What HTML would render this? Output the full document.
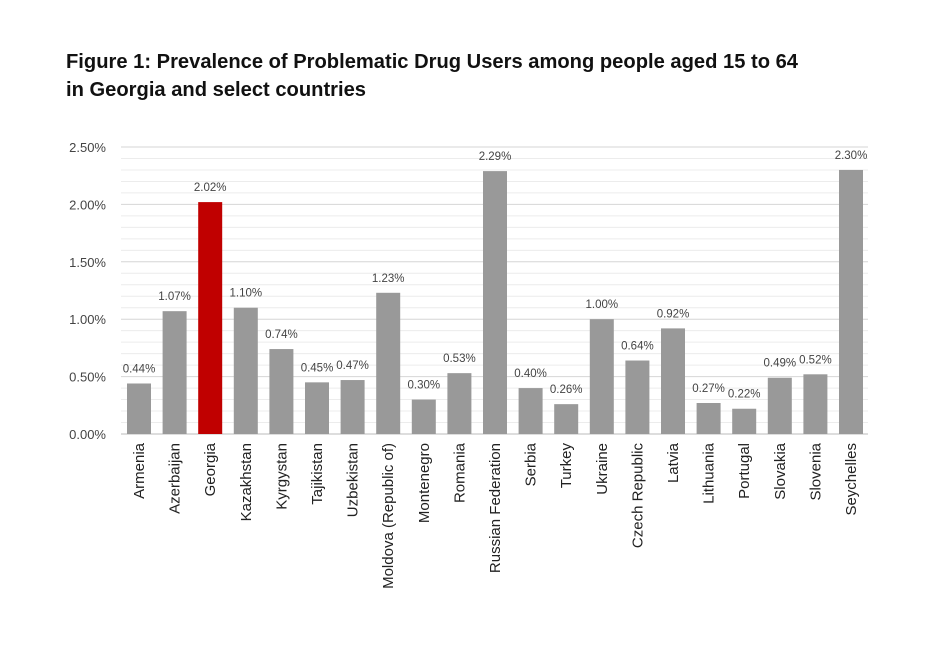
<!DOCTYPE html><html><head><style>body{margin:0;background:#fff}</style></head><body>
<svg width="946" height="664" xmlns="http://www.w3.org/2000/svg" font-family="Liberation Sans, sans-serif">
<rect width="946" height="664" fill="#fff"/>
<text x="66" y="68" font-size="20" font-weight="bold" fill="#111" textLength="732" lengthAdjust="spacingAndGlyphs">Figure 1: Prevalence of Problematic Drug Users among people aged 15 to 64</text>
<text x="66" y="96" font-size="20" font-weight="bold" fill="#111" textLength="300" lengthAdjust="spacingAndGlyphs">in Georgia and select countries</text>
<g id="g"></g>
<script>
const g=document.getElementById('g');const ns='http://www.w3.org/2000/svg';
function el(t,a,txt){const e=document.createElementNS(ns,t);for(const k in a)e.setAttribute(k,a[k]);if(txt)e.textContent=txt;g.appendChild(e);}
const y0=434,s=114.8;
for(let i=1;i<=25;i++){const y=y0-i*s/10;el('line',{x1:121,x2:868,y1:y,y2:y,stroke:i%5?'#ececec':'#d6d6d6','stroke-width':1});}
el('line',{x1:121,x2:868,y1:y0,y2:y0,stroke:'#bbb'});
for(let i=0;i<=5;i++){el('text',{x:106,y:y0-i*s/2+5,'font-size':13,fill:'#444','text-anchor':'end'},(i*0.5).toFixed(2)+'%');}
const d=[["Armenia",.44],["Azerbaijan",1.07],["Georgia",2.02],["Kazakhstan",1.10],["Kyrgystan",.74],["Tajikistan",.45],["Uzbekistan",.47],["Moldova (Republic of)",1.23],["Montenegro",.30],["Romania",.53],["Russian Federation",2.29],["Serbia",.40],["Turkey",.26],["Ukraine",1.00],["Czech Republic",.64],["Latvia",.92],["Lithuania",.27],["Portugal",.22],["Slovakia",.49],["Slovenia",.52],["Seychelles",2.30]];
d.forEach((v,i)=>{const cx=139+i*35.6,h=v[1]*s;
el('rect',{x:cx-12,y:y0-h,width:24,height:h,fill:v[0]=='Georgia'?'#c00000':'#999'});
el('text',{x:cx,y:y0-h-11,'font-size':11.5,fill:'#444','text-anchor':'middle'},v[1].toFixed(2)+'%');
el('text',{transform:`translate(${cx+5},443) rotate(-90)`,'font-size':15,fill:'#222','text-anchor':'end'},v[0]);});
</script>
</svg></body></html>
